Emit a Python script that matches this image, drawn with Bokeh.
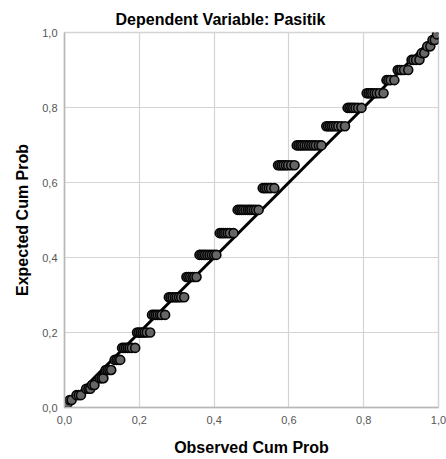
from bokeh.plotting import figure
from bokeh.models import FixedTicker, Range1d
from bokeh.embed import file_html
from bokeh.resources import INLINE

title_text = "Dependent Variable: Pasitik"
x_label = "Observed Cum Prob"
y_label = "Expected Cum Prob"
tick_values = [0.0, 0.2, 0.4, 0.6, 0.8, 1.0]
tick_labels = ["0,0", "0,2", "0,4", "0,6", "0,8", "1,0"]

# expected cum prob levels, and the observed cum probs of the points on each level
expected_levels = [
    0.012, 0.020, 0.033, 0.050, 0.060, 0.078, 0.100, 0.127, 0.159, 0.200,
    0.247, 0.294, 0.348, 0.407, 0.465, 0.527, 0.585, 0.646, 0.699, 0.750,
    0.799, 0.838, 0.873, 0.900, 0.927, 0.945, 0.963, 0.980, 0.995,
]
observed_groups = [
    [0.004, 0.009],
    [0.014, 0.019],
    [0.032, 0.038, 0.044],
    [0.058, 0.064, 0.069],
    [0.074, 0.080],
    [0.094, 0.099, 0.104],
    [0.110, 0.115, 0.120, 0.125],
    [0.134, 0.139, 0.144, 0.149],
    [0.154, 0.159, 0.164, 0.169, 0.174, 0.180, 0.189],
    [0.194, 0.199, 0.204, 0.209, 0.214, 0.220, 0.229],
    [0.234, 0.239, 0.244, 0.249, 0.255, 0.260, 0.269],
    [0.279, 0.284, 0.289, 0.295, 0.300, 0.306, 0.312, 0.320],
    [0.326, 0.331, 0.336, 0.342, 0.347, 0.353],
    [0.361, 0.366, 0.371, 0.376, 0.382, 0.388, 0.394, 0.400, 0.406],
    [0.415, 0.420, 0.425, 0.430, 0.436, 0.442, 0.452],
    [0.463, 0.468, 0.473, 0.478, 0.484, 0.490, 0.495, 0.500, 0.506, 0.512, 0.519],
    [0.530, 0.535, 0.540, 0.546, 0.552, 0.561],
    [0.571, 0.576, 0.581, 0.586, 0.592, 0.598, 0.606, 0.615],
    [0.621, 0.626, 0.631, 0.636, 0.642, 0.648, 0.654, 0.660, 0.666, 0.672, 0.680, 0.687],
    [0.700, 0.705, 0.710, 0.715, 0.720, 0.726, 0.732, 0.740, 0.750],
    [0.757, 0.762, 0.767, 0.772, 0.778, 0.785, 0.794],
    [0.808, 0.813, 0.818, 0.823, 0.829, 0.835, 0.843, 0.853],
    [0.861, 0.866, 0.872, 0.882],
    [0.891, 0.896, 0.901, 0.908, 0.919],
    [0.928, 0.933, 0.940, 0.949],
    [0.955, 0.962],
    [0.970, 0.978],
    [0.984, 0.990],
    [0.996],
]
ref_line_x = [0.0, 1.0]
ref_line_y = [0.0, 1.0]

observed = [o for grp in observed_groups for o in grp]
expected = [lvl for lvl, grp in zip(expected_levels, observed_groups) for _ in grp]

p = figure(width=446, height=459, output_backend="svg", toolbar_location=None,
           x_range=Range1d(0, 1), y_range=Range1d(0, 1),
           min_border_left=64, min_border_right=8, min_border_top=32, min_border_bottom=52,
           title=title_text)
p.background_fill_color = "white"
p.border_fill_color = "white"
p.outline_line_color = "#d4d4d4"
p.outline_line_width = 1.5

p.title.align = "left"
p.title.offset = 51
p.title.text_font = "Liberation Sans"
p.title.text_font_size = "16px"
p.title.text_font_style = "bold"
p.title.text_color = "#000000"

for ax, lab in ((p.xaxis[0], x_label), (p.yaxis[0], y_label)):
    ax.ticker = FixedTicker(ticks=tick_values)
    ax.major_label_overrides = {v: t for v, t in zip(tick_values, tick_labels)}
    ax.axis_label = lab
    ax.axis_label_text_font = "Liberation Sans"
    ax.axis_label_text_font_size = "16px"
    ax.axis_label_text_font_style = "bold"
    ax.axis_label_text_color = "#000000"
    ax.axis_label_standoff = 12
    ax.major_label_text_font = "Liberation Sans"
    ax.major_label_text_font_size = "11px"
    ax.major_label_text_color = "#555555"
    ax.major_label_standoff = 1
    ax.major_tick_line_color = None
    ax.minor_tick_line_color = None
    ax.axis_line_color = "#b8b8b8"
    ax.axis_line_width = 1.5
p.yaxis[0].major_label_orientation = "horizontal"
p.yaxis[0].axis_label_standoff = 8
p.xaxis[0].major_label_standoff = 2

p.xgrid.ticker = FixedTicker(ticks=tick_values)
p.ygrid.ticker = FixedTicker(ticks=tick_values)
p.grid.grid_line_color = "#d4d4d4"
p.grid.grid_line_width = 1.2

p.line(ref_line_x, ref_line_y, line_color="black", line_width=3)
p.scatter(observed, expected, size=9, fill_color="#666666", line_color="#050505", line_width=1.6)

open("out.html", "w").write(file_html(p, INLINE))
